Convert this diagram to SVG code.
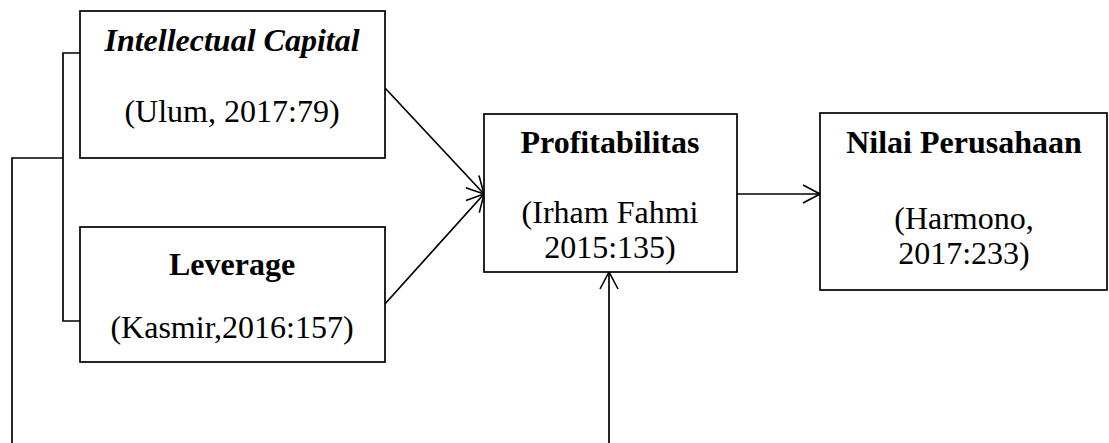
<svg xmlns="http://www.w3.org/2000/svg" width="1109" height="443" viewBox="0 0 1109 443">
<defs>
<marker id="arr" viewBox="0 0 20 20" refX="19" refY="10" markerWidth="20" markerHeight="20" markerUnits="userSpaceOnUse" orient="auto">
<path d="M2,1 L19,10 L2,19" fill="none" stroke="#000" stroke-width="1.6"/>
</marker>
<style>
.box{fill:#fff;stroke:#000;stroke-width:1.7}
.ln{fill:none;stroke:#000;stroke-width:1.7}
text{font-family:"Liberation Serif","Times New Roman",serif;font-size:32px;fill:#000;text-anchor:middle}
.b{font-weight:bold}
.bi{font-weight:bold;font-style:italic}
</style>
</defs>
<g id="connectors">
<path class="ln" d="M80,53 L63,53 L63,321 L80,321"/>
<path class="ln" d="M63,158 L12,158 L12,443"/>
<line class="ln" x1="385" y1="88" x2="484" y2="194" marker-end="url(#arr)"/>
<line class="ln" x1="384" y1="305" x2="484" y2="194" marker-end="url(#arr)"/>
<line class="ln" x1="737" y1="194" x2="820" y2="194" marker-end="url(#arr)"/>
<line class="ln" x1="609" y1="443" x2="609" y2="272" marker-end="url(#arr)"/>
</g>
<g id="intellectual-capital">
<rect class="box" x="80" y="11" width="305" height="147"/>
<text class="bi" x="232" y="51">Intellectual Capital</text>
<text x="232" y="122">(Ulum, 2017:79)</text>
</g>
<g id="leverage">
<rect class="box" x="80" y="227" width="305" height="135"/>
<text class="b" x="232" y="275">Leverage</text>
<text x="232" y="338">(Kasmir,2016:157)</text>
</g>
<g id="profitabilitas">
<rect class="box" x="484" y="114" width="253" height="158"/>
<text class="b" x="610" y="153">Profitabilitas</text>
<text x="610" y="223">(Irham Fahmi</text>
<text x="610" y="258">2015:135)</text>
</g>
<g id="nilai-perusahaan">
<rect class="box" x="820" y="113" width="287" height="177"/>
<text class="b" x="964" y="153">Nilai Perusahaan</text>
<text x="964" y="229">(Harmono,</text>
<text x="964" y="264">2017:233)</text>
</g>
</svg>
